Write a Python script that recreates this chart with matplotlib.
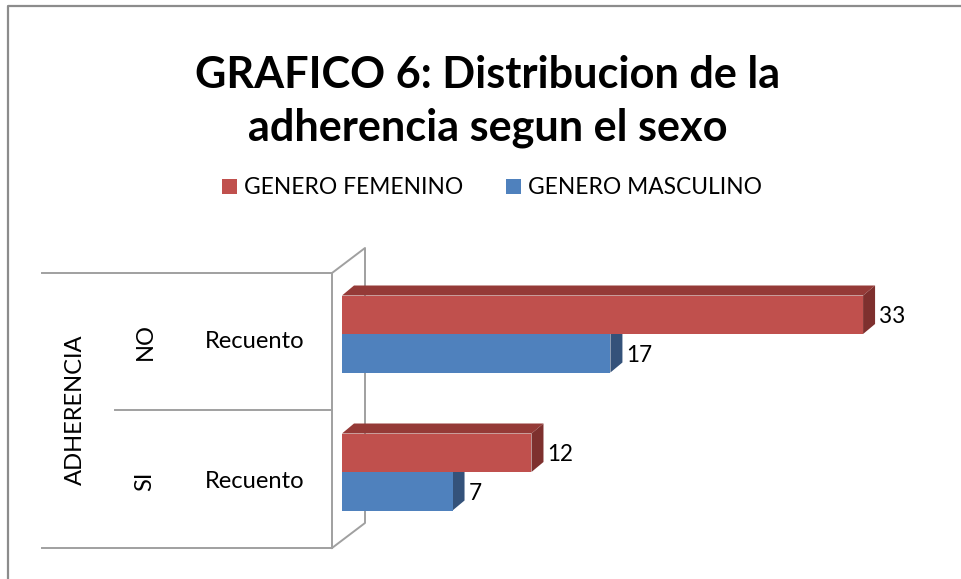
import matplotlib
matplotlib.use('Agg')
import matplotlib.pyplot as plt
from matplotlib.patches import Polygon, Patch

# Data
categories = ['NO', 'SI']
row_label = 'Recuento'
group_label = 'ADHERENCIA'
series_names = ['GENERO FEMENINO', 'GENERO MASCULINO']
femenino = [33, 12]
masculino = [17, 7]
title_lines = ['GRAFICO 6: Distribucion de la', 'adherencia segun el sexo']

# Excel 2007 style colours (front, top, side)
front_colors = ['#C0504D', '#4F81BD']
top_colors = ['#953A37', '#3D6293']
side_colors = ['#7E302E', '#34527A']
frame_color = '#A0A0A0'

W, H = 961, 579
plt.rcParams['font.family'] = ['Lato', 'DejaVu Sans']
fig = plt.figure(figsize=(W / 100, H / 100), dpi=100)
renderer = fig.canvas.get_renderer()


def fitted_size(s, target_px, weight='normal', size=12):
    # font size that makes string s about target_px wide
    t = fig.text(0, 0, s, fontsize=size, fontweight=weight)
    w = t.get_window_extent(renderer).width
    t.remove()
    return size * target_px / w


# pixel layer (y down) for the frame and the category table
bg = fig.add_axes([0, 0, 1, 1])
bg.set_xlim(0, W)
bg.set_ylim(H, 0)
bg.axis('off')

# outer chart border
bg.plot([8, 8, W], [H, 6, 6], color='#8C8C8C', lw=1.6, solid_capstyle='butt')

# category table + 3D wall
fl, bl = 332, 365
bg.plot([42, fl], [273, 273], color=frame_color, lw=1.4)
bg.plot([115, fl], [410, 410], color=frame_color, lw=1.4)
bg.plot([42, fl], [548, 548], color=frame_color, lw=1.4)
bg.plot([fl, fl], [273, 548], color=frame_color, lw=1.4)
bg.plot([fl, bl, bl, fl], [273, 248, 523, 548], color=frame_color, lw=1.4)

# title
t_size = fitted_size(title_lines[0], 582, weight='bold')
bg.text(488, 88, title_lines[0], fontsize=t_size, fontweight='bold',
        ha='center', va='baseline')
bg.text(488, 141, title_lines[1], fontsize=t_size, fontweight='bold',
        ha='center', va='baseline')

# table labels
lab_size = fitted_size(row_label, 100)
bg.text(75, 410, group_label, fontsize=lab_size, rotation=90,
        ha='center', va='center')
centers = [342, 481]
for cat, yc in zip(categories, centers):
    bg.text(145, yc, cat, fontsize=lab_size, rotation=90, ha='center', va='center')
    bg.text(255, yc, row_label, fontsize=lab_size, ha='center', va='center')

# data layer: value 0 at x=342 px, 15.79 px per unit, 138 px per category
x0_px, px_per_val = 342, 15.79
y0_px, px_per_cat = 334, 138
ax = fig.add_axes([0, 0, 1, 1], zorder=2)
ax.patch.set_alpha(0)
ax.set_xlim(-x0_px / px_per_val, (W - x0_px) / px_per_val)
ax.set_ylim((H - y0_px) / px_per_cat, -y0_px / px_per_cat)
ax.axis('off')

bar_h = 38.5 / px_per_cat
ddx = 12 / px_per_val      # depth offset of the 3D bars
ddy = -10 / px_per_cat
val_size = fitted_size('33', 26)


def bar3d(y_top, v, k):
    y_bot = y_top + bar_h
    top = [(0, y_top), (v, y_top), (v + ddx, y_top + ddy), (ddx, y_top + ddy)]
    side = [(v, y_top), (v, y_bot), (v + ddx, y_bot + ddy), (v + ddx, y_top + ddy)]
    ax.add_patch(Polygon(top, closed=True, facecolor=top_colors[k], edgecolor='none'))
    ax.add_patch(Polygon(side, closed=True, facecolor=side_colors[k], edgecolor='none'))
    ax.barh(y_top + bar_h / 2, v, height=bar_h, left=0, color=front_colors[k],
            edgecolor='none')
    ax.text(v + ddx + 4 / px_per_val, y_top + bar_h / 2 + 2 / px_per_cat, str(v),
            fontsize=val_size, ha='left', va='center')


for i in range(len(categories)):
    # lower (masculino) bar first, the upper one covers its hidden top
    bar3d(i, masculino[i], 1)
    bar3d(i - bar_h, femenino[i], 0)

# legend
leg_size = fitted_size(series_names[0], 217)
fs_px = leg_size * 100 / 72
handles = [Patch(facecolor=front_colors[0]), Patch(facecolor=front_colors[1])]
ax.legend(handles, series_names, ncol=2, loc='center', frameon=False,
          bbox_to_anchor=(492 / W, 1 - 188 / H), bbox_transform=fig.transFigure,
          fontsize=leg_size, handlelength=15 / fs_px, handleheight=15 / fs_px,
          handletextpad=7 / fs_px, columnspacing=43 / fs_px, borderpad=0)

fig.savefig('out.png', dpi=100)
